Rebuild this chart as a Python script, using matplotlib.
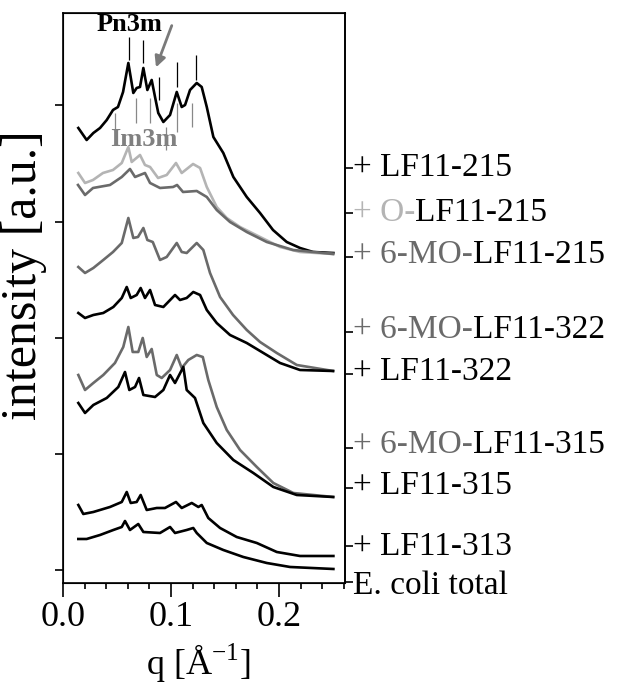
import matplotlib
matplotlib.use("Agg")
import matplotlib.pyplot as plt
from matplotlib.ticker import MultipleLocator
from matplotlib.transforms import blended_transform_factory

plt.rcParams['font.family'] = ['Liberation Serif', 'DejaVu Serif']
plt.rcParams['mathtext.fontset'] = 'custom'
plt.rcParams['mathtext.rm'] = 'Liberation Serif'

BLACK = '#000000'
LIGHT = '#b4b4b4'
DARK = '#6a6a6a'

# --- SAXS curves, q in 1/A, intensity in a.u. (already offset) ---
q_lf215 = [0.0142, 0.0219, 0.0281, 0.0343, 0.0405, 0.0463, 0.0509, 0.0556, 0.0605, 0.0651, 0.0682, 0.0713,
           0.0744, 0.0781, 0.0821, 0.0852, 0.0882, 0.0929, 0.0991, 0.1053, 0.1099, 0.1130, 0.1176, 0.1238,
           0.1284, 0.1331, 0.1392, 0.1484, 0.1577, 0.1701, 0.1824, 0.1944, 0.2071, 0.2194, 0.2315, 0.2503]
i_lf215 = [4.55, 4.43, 4.50, 4.55, 4.63, 4.73, 4.76, 4.91, 5.20, 4.90, 4.95, 4.96,
           5.15, 4.93, 5.03, 4.86, 4.70, 4.61, 4.68, 4.91, 4.76, 4.78, 4.93, 5.00,
           4.96, 4.76, 4.46, 4.30, 4.06, 3.86, 3.70, 3.53, 3.41, 3.35, 3.31, 3.30]

q_o215 = [0.0142, 0.0204, 0.0278, 0.0370, 0.0463, 0.0544, 0.0605, 0.0636, 0.0713, 0.0759, 0.0806, 0.0880,
          0.0960, 0.1046, 0.1099, 0.1204, 0.1269, 0.1331, 0.1423, 0.1516, 0.1639, 0.1824, 0.2009, 0.2194, 0.2500]
i_o215 = [4.10, 4.00, 4.03, 4.10, 4.13, 4.20, 4.36, 4.21, 4.28, 4.18, 4.16, 4.05,
          4.08, 4.20, 4.10, 4.19, 4.15, 3.96, 3.76, 3.65, 3.56, 3.46, 3.36, 3.31, 3.29]

q_mo215 = [0.0139, 0.0204, 0.0278, 0.0435, 0.0544, 0.0620, 0.0667, 0.0759, 0.0806, 0.0898, 0.1019, 0.1056,
           0.1111, 0.1238, 0.1331, 0.1423, 0.1546, 0.1701, 0.1886, 0.2130, 0.2500]
i_mo215 = [3.98, 3.88, 3.95, 3.98, 4.06, 4.14, 4.06, 4.10, 4.00, 3.95, 3.96, 3.98,
           3.91, 3.92, 3.86, 3.73, 3.61, 3.51, 3.41, 3.33, 3.29]

q_mo322 = [0.0142, 0.0204, 0.0281, 0.0373, 0.0463, 0.0544, 0.0605, 0.0651, 0.0694, 0.0744, 0.0781, 0.0831,
           0.0898, 0.0960, 0.1053, 0.1099, 0.1145, 0.1238, 0.1299, 0.1361, 0.1454, 0.1574, 0.1701, 0.1824,
           0.1979, 0.2164, 0.2500]
i_mo322 = [3.16, 3.10, 3.15, 3.23, 3.31, 3.40, 3.65, 3.45, 3.46, 3.55, 3.43, 3.41,
           3.23, 3.26, 3.40, 3.31, 3.30, 3.40, 3.33, 3.10, 2.86, 2.68, 2.53, 2.41,
           2.30, 2.18, 2.12]

q_lf322 = [0.0142, 0.0204, 0.0281, 0.0373, 0.0466, 0.0544, 0.0590, 0.0627, 0.0682, 0.0719, 0.0759, 0.0806,
           0.0852, 0.0929, 0.1037, 0.1083, 0.1145, 0.1206, 0.1269, 0.1331, 0.1423, 0.1546, 0.1701, 0.1855,
           0.2009, 0.2194, 0.2500]
i_lf322 = [2.70, 2.65, 2.68, 2.70, 2.76, 2.85, 2.96, 2.85, 2.88, 2.95, 2.85, 2.93,
           2.78, 2.76, 2.88, 2.83, 2.85, 2.91, 2.88, 2.73, 2.60, 2.48, 2.40, 2.30,
           2.20, 2.13, 2.12]

q_mo315 = [0.0142, 0.0204, 0.0281, 0.0373, 0.0481, 0.0558, 0.0605, 0.0645, 0.0697, 0.0738, 0.0775, 0.0821,
           0.0868, 0.0914, 0.0991, 0.1053, 0.1099, 0.1160, 0.1238, 0.1294, 0.1345, 0.1423, 0.1516, 0.1639,
           0.1794, 0.1947, 0.2132, 0.2503]
i_mo315 = [2.08, 1.93, 2.00, 2.08, 2.20, 2.36, 2.56, 2.31, 2.31, 2.45, 2.26, 2.34,
           2.08, 2.05, 2.13, 2.28, 2.15, 2.23, 2.28, 2.26, 2.03, 1.76, 1.53, 1.33,
           1.16, 1.00, 0.90, 0.86]

q_lf315 = [0.0142, 0.0204, 0.0281, 0.0405, 0.0512, 0.0574, 0.0614, 0.0667, 0.0704, 0.0744, 0.0852, 0.0929,
           0.0991, 0.1037, 0.1114, 0.1145, 0.1222, 0.1299, 0.1423, 0.1577, 0.1762, 0.1947, 0.2164, 0.2500]
i_lf315 = [1.80, 1.70, 1.78, 1.85, 1.96, 2.11, 1.93, 1.96, 2.05, 1.88, 1.86, 1.93,
           2.08, 2.00, 2.16, 1.93, 1.85, 1.60, 1.40, 1.23, 1.10, 0.96, 0.88, 0.86]

q_lf313 = [0.0142, 0.0188, 0.0281, 0.0435, 0.0544, 0.0590, 0.0627, 0.0682, 0.0719, 0.0775, 0.0868, 0.0944,
           0.1046, 0.1099, 0.1192, 0.1253, 0.1284, 0.1345, 0.1454, 0.1608, 0.1794, 0.1979, 0.2194, 0.2503]
i_lf313 = [0.78, 0.69, 0.71, 0.76, 0.81, 0.91, 0.80, 0.81, 0.88, 0.73, 0.75, 0.75,
           0.81, 0.75, 0.80, 0.76, 0.78, 0.65, 0.55, 0.46, 0.40, 0.31, 0.27, 0.27]

q_ecoli = [0.0142, 0.0219, 0.0343, 0.0466, 0.0544, 0.0574, 0.0620, 0.0697, 0.0744, 0.0898, 0.0991, 0.1037,
           0.1145, 0.1206, 0.1238, 0.1331, 0.1484, 0.1669, 0.1886, 0.2102, 0.2503]
i_ecoli = [0.44, 0.44, 0.48, 0.53, 0.56, 0.62, 0.53, 0.59, 0.51, 0.50, 0.56, 0.50,
           0.53, 0.55, 0.50, 0.40, 0.33, 0.26, 0.20, 0.16, 0.14]

# Bragg reflection markers
pn3m_q = [0.0611, 0.0744, 0.0892, 0.1058, 0.1231]
pn3m_lo = [5.23, 5.20, 4.83, 4.96, 5.03]
pn3m_hi = [5.46, 5.43, 5.06, 5.21, 5.28]
im3m_q = [0.0481, 0.0676, 0.0806, 0.0954, 0.1053, 0.1197]
im3m_lo = [4.51, 4.60, 4.60, 4.33, 4.51, 4.56]
im3m_hi = [4.70, 4.85, 4.85, 4.56, 4.80, 4.80]

# right-hand sample labels: coloured prefix + black rest
label_prefix = ['+ ', '+ O-', '+ 6-MO-', '+ 6-MO-', '+ ', '+ 6-MO-', '+ ', '+ ', '']
label_pcolor = [BLACK, LIGHT, DARK, DARK, BLACK, DARK, BLACK, BLACK, BLACK]
label_rest = ['LF11-215', 'LF11-215', 'LF11-215', 'LF11-322', 'LF11-322', 'LF11-315', 'LF11-315',
              'LF11-313', 'E. coli total']
label_y = [4.15, 3.70, 3.28, 2.53, 2.11, 1.38, 0.97, 0.36, -0.03]
right_ticks = [4.15, 3.70, 3.26, 2.51, 2.09, 1.35, 0.95, 0.37, 0.01]
left_ticks = [0.13, 1.29, 2.45, 3.61, 4.78]

fig = plt.figure(figsize=(6.23, 6.87), dpi=100)
ax = fig.add_axes([0.1011, 0.1514, 0.4526, 0.8297])

lw = 1.9
ax.plot(q_lf215, i_lf215, color=BLACK, lw=lw)
ax.plot(q_o215, i_o215, color=LIGHT, lw=lw)
ax.plot(q_mo215, i_mo215, color=DARK, lw=lw)
ax.plot(q_mo322, i_mo322, color=DARK, lw=lw)
ax.plot(q_lf322, i_lf322, color=BLACK, lw=lw)
ax.plot(q_mo315, i_mo315, color=DARK, lw=lw)
ax.plot(q_lf315, i_lf315, color=BLACK, lw=lw)
ax.plot(q_lf313, i_lf313, color=BLACK, lw=lw)
ax.plot(q_ecoli, i_ecoli, color=BLACK, lw=lw)

ax.vlines(pn3m_q, pn3m_lo, pn3m_hi, color=BLACK, lw=0.9)
ax.vlines(im3m_q, im3m_lo, im3m_hi, color='#888888', lw=0.9)
ax.text(0.062, 5.58, 'Pn3m', ha='center', va='center', fontsize=19, fontweight='bold', color=BLACK)
ax.text(0.075, 4.43, 'Im3m', ha='center', va='center', fontsize=19, fontweight='bold', color='#808080')
ax.annotate('', xy=(0.0852, 5.13), xytext=(0.1016, 5.60),
            arrowprops=dict(arrowstyle='-|>', color='#7a7a7a', lw=2.0, mutation_scale=16))

ax.set_xlim(0, 0.261)
ax.set_ylim(0, 5.70)
ax.set_xticks([0.0, 0.1, 0.2])
ax.set_xticklabels(['0.0', '0.1', '0.2'])
ax.xaxis.set_minor_locator(MultipleLocator(0.02))
ax.set_yticks(left_ticks)
ax.set_yticklabels([])
ax.tick_params(axis='x', which='major', direction='out', length=10, width=1.2, labelsize=26, pad=3)
ax.tick_params(axis='x', which='minor', direction='out', length=4, width=1.2)
ax.tick_params(axis='y', direction='out', length=6, width=1.2)
for s in ax.spines.values():
    s.set_linewidth(1.2)

ax2 = ax.twinx()
ax2.set_ylim(ax.get_ylim())
ax2.set_yticks(right_ticks)
ax2.set_yticklabels([])
ax2.tick_params(axis='y', direction='out', length=6, width=1.2)
ax2.spines['right'].set_linewidth(1.2)

tr = blended_transform_factory(ax.transAxes, ax.transData)
for pre, pc, rest, y in zip(label_prefix, label_pcolor, label_rest, label_y):
    if pre:
        t = ax.text(1.028, y, pre, color=pc, fontsize=24, va='center', ha='left', transform=tr)
        ax.annotate(rest, xy=(1, 0), xycoords=t, va='bottom', ha='left', fontsize=24, color=BLACK)
    else:
        ax.text(1.028, y, rest, color=BLACK, fontsize=24, va='center', ha='left', transform=tr)

ax.set_xlabel('q [Å$^{\\mathregular{-1}}$]', fontsize=26)
ax.xaxis.set_label_coords(0.48, -0.104)
ax.xaxis.label.set_va('top')
ax.set_ylabel('intensity [a.u.]', fontsize=36)
ax.yaxis.label.set_va('center')
ax.yaxis.set_label_coords(-0.14, 0.54)

fig.savefig('out.png', dpi=100)
